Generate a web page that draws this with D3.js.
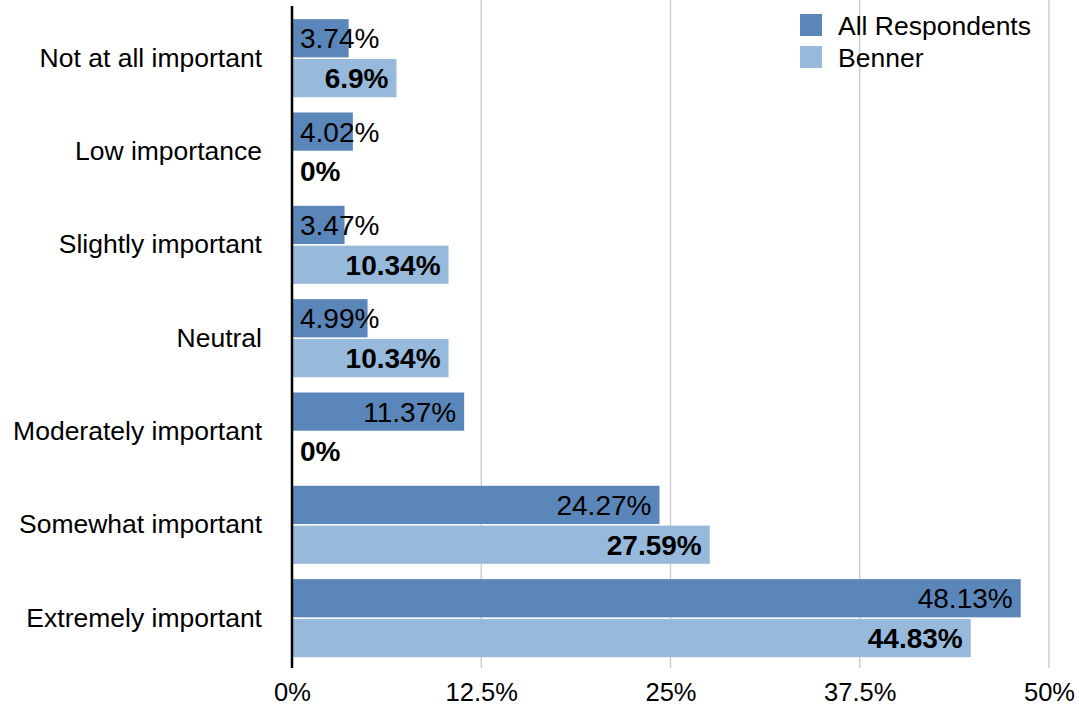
<!DOCTYPE html>
<html><head><meta charset="utf-8">
<script src="https://cdn.jsdelivr.net/npm/d3@7"></script>
<style>body{margin:0;background:#fff;} svg{display:block;font-family:"Liberation Sans",Arial,Helvetica,sans-serif;}</style>
</head><body><svg id="c" width="1079" height="709"></svg>
<script>
const categories = ["Not at all important","Low importance","Slightly important","Neutral","Moderately important","Somewhat important","Extremely important"];
const seriesNames = ["All Respondents","Benner"];
const allRespondents = [3.74,4.02,3.47,4.99,11.37,24.27,48.13];
const benner = [6.9,0,10.34,10.34,0,27.59,44.83];
const tickValues = [0,12.5,25,37.5,50];
const tickLabels = ["0%","12.5%","25%","37.5%","50%"];
const colors = ["#5b86b9","#96b9dc"];

const svg = d3.select("#c");
const x = d3.scaleLinear().domain([0,50]).range([292,1049]);
const y = d3.scaleBand().domain(categories).range([11.5,664.8]).paddingInner(0.164).paddingOuter(0.082);
const ys = d3.scaleBand().domain(seriesNames).range([0,y.bandwidth()]).paddingInner(0.04);
const seriesVals = [allRespondents, benner];

// gridlines
svg.append("g").selectAll("line").data(tickValues.slice(1)).join("line")
  .attr("x1",d=>x(d)).attr("x2",d=>x(d)).attr("y1",0).attr("y2",668)
  .attr("stroke","#c8c8c8").attr("stroke-width",1.3);

// bars
seriesNames.forEach((s,si)=>{
  const g = svg.append("g");
  g.selectAll("rect").data(categories).join("rect")
    .attr("x",x(0)).attr("y",(d)=>y(d)+ys(s))
    .attr("width",(d,i)=>x(seriesVals[si][i])-x(0)).attr("height",ys.bandwidth())
    .attr("fill",colors[si]);
  g.selectAll("text").data(categories).join("text")
    .each(function(d,i){
      const v = seriesVals[si][i];
      const t = d3.select(this);
      t.text(v+"%").attr("font-size",28).attr("font-weight",si===1?"bold":"normal")
        .attr("fill","#000").attr("y",y(d)+ys(s)+ys.bandwidth()/2).attr("dy","0.36em");
      const w = this.getComputedTextLength();
      const bw = x(v)-x(0);
      if (w+16 > bw) t.attr("x",x(0)+8).attr("text-anchor","start");
      else t.attr("x",x(v)-8).attr("text-anchor","end");
    });
});

// y axis line
svg.append("line").attr("x1",292).attr("x2",292).attr("y1",6).attr("y2",668).attr("stroke","#000").attr("stroke-width",2.5);

// category labels
const yAxis = d3.axisLeft(y).tickSize(0).tickPadding(30);
const ga = svg.append("g").attr("transform","translate(292,0)").call(yAxis);
ga.select(".domain").remove();
ga.selectAll("text").attr("font-size",26.5).attr("font-family","Liberation Sans, Arial, sans-serif").attr("fill","#000");

// x axis labels
const xAxis = d3.axisBottom(x).tickValues(tickValues).tickFormat((d,i)=>tickLabels[i]).tickSize(0).tickPadding(15);
const gx = svg.append("g").attr("transform","translate(0,668)").call(xAxis);
gx.select(".domain").remove();
gx.selectAll("text").attr("font-size",25.5).attr("font-family","Liberation Sans, Arial, sans-serif").attr("fill","#000");

// legend
const lg = svg.append("g");
seriesNames.forEach((s,i)=>{
  lg.append("rect").attr("x",800).attr("y",14+i*32).attr("width",22).attr("height",22).attr("fill",colors[i]);
  lg.append("text").attr("x",838).attr("y",25+i*32).attr("dy","0.36em").attr("font-size",26.5).attr("fill","#000").text(s);
});
</script></body></html>
